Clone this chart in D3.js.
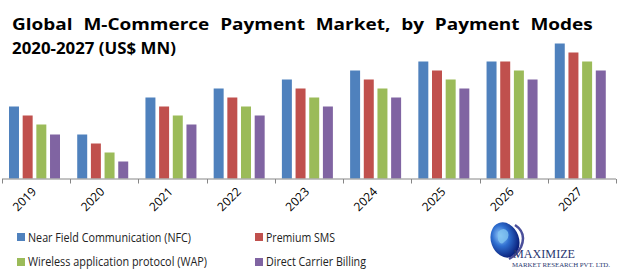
<!DOCTYPE html>
<html><head><meta charset="utf-8">
<script src="https://cdn.jsdelivr.net/npm/d3@7"></script>
<style>body{margin:0;background:#fff}svg{display:block}</style>
</head><body>
<svg id="c" width="624" height="271"></svg>
<script>
const years = ["2019","2020","2021","2022","2023","2024","2025","2026","2027"];
const seriesNames = ["Near Field Communication (NFC)","Premium SMS","Wireless application protocol (WAP)","Direct Carrier Billing"];
const colors = ["#4F81BD","#C0504D","#9BBB59","#8064A2"];
const nfc     = [72, 44, 81, 90, 99, 108, 117, 117, 135];
const sms     = [63, 35, 72, 81, 90,  99, 108, 117, 126];
const wap     = [54, 26, 63, 72, 81,  90,  99, 108, 117];
const carrier = [44, 17, 54, 63, 72,  81,  90,  99, 108];
const seriesValues = [nfc, sms, wap, carrier];
const titleLines = ["Global M-Commerce Payment Market, by Payment Modes", "2020-2027 (US$ MN)"];

const svg = d3.select("#c");
const baseY = 178.5;
const x0 = d3.scaleBand().domain(years).range([2, 616]).padding(0);
const xi = d3.scaleBand().domain(d3.range(4)).range([7, 58]).paddingInner(0.27);
const y = d3.scaleLinear().domain([0, 135]).range([baseY, baseY - 135]);

// Title
const tf = "'Open Sans', 'DejaVu Sans', sans-serif";
const tg1 = svg.append("g");
const t1 = tg1.append("text").attr("x", 0).attr("y", 0).attr("font-family", tf)
  .attr("font-weight", "bold").attr("font-size", 16).attr("fill", "#000")
  .attr("word-spacing", 5).text(titleLines[0]);
const nat = t1.node().getBBox().width;
tg1.attr("transform", `translate(12,30) scale(${581 / nat},1)`);
const tg2 = svg.append("g");
const t2 = tg2.append("text").attr("x", 0).attr("y", 0).attr("font-family", tf)
  .attr("font-weight", "bold").attr("font-size", 16).attr("fill", "#000").text(titleLines[1]);
const nat2 = t2.node().getBBox().width;
tg2.attr("transform", `translate(12,54) scale(${164 / nat2},1)`);

// Bars
const g = svg.append("g");
years.forEach((yr, i) => {
  seriesValues.forEach((vals, s) => {
    g.append("rect")
      .attr("x", x0(yr) + xi(s))
      .attr("width", xi.bandwidth())
      .attr("y", y(vals[i]))
      .attr("height", y(0) - y(vals[i]))
      .attr("fill", colors[s]);
  });
});

// Axis
const ax = svg.append("g").attr("transform", `translate(0,${baseY})`);
const axis = d3.axisBottom(x0).tickSize(0).tickPadding(0).tickFormat("");
ax.call(axis);
ax.select(".domain").remove();
ax.append("line").attr("x1", 2).attr("x2", 616).attr("y1", 0.5).attr("y2", 0.5).attr("stroke", "#868686");
const bounds = years.map(d => x0(d)).concat([x0.range()[1]]);
bounds.forEach(b => ax.append("line").attr("x1", Math.round(b)+0.5).attr("x2", Math.round(b)+0.5)
  .attr("y1", 0.5).attr("y2", 5).attr("stroke", "#868686"));
years.forEach(yr => {
  const cx = x0(yr) + x0.bandwidth() / 2 + 1;
  ax.append("text").attr("transform", `translate(${cx},14) rotate(-45)`)
    .attr("text-anchor", "end").attr("font-family", tf).attr("font-size", 12)
    .attr("fill", "#000").text(yr);
});

// Legend
const lf = "'Open Sans', 'DejaVu Sans', sans-serif";
const leg = [
  {x: 17, y: 233, tx: 28, ty: 242, w: 163},
  {x: 255, y: 233, tx: 266, ty: 242, w: 69},
  {x: 17, y: 258, tx: 28, ty: 266, w: 179},
  {x: 255, y: 258, tx: 266, ty: 266, w: 100}
];
seriesNames.forEach((n, i) => {
  const L = leg[i];
  svg.append("rect").attr("x", L.x).attr("y", L.y).attr("width", 8).attr("height", 8).attr("fill", colors[i]);
  svg.append("text").attr("x", L.tx).attr("y", L.ty).attr("font-family", lf).attr("font-size", 13.5)
    .attr("fill", "#222").attr("textLength", L.w).attr("lengthAdjust", "spacingAndGlyphs").text(n);
});

// Logo
const defs = svg.append("defs");
const rg = defs.append("radialGradient").attr("id", "gl").attr("cx", "40%").attr("cy", "35%").attr("r", "65%");
rg.append("stop").attr("offset", "0%").attr("stop-color", "#9fd4ff");
rg.append("stop").attr("offset", "45%").attr("stop-color", "#2f6fd0");
rg.append("stop").attr("offset", "100%").attr("stop-color", "#0a1f7a");
const logo = svg.append("g");
logo.append("ellipse").attr("cx", 505).attr("cy", 240).attr("rx", 14).attr("ry", 18)
  .attr("transform", "rotate(-20,505,240)").attr("fill", "url(#gl)");
logo.append("path").attr("d", "M498,232 q6,-6 10,0 q2,6 -4,10 q-3,4 -6,-2 z").attr("fill", "#7fc3f0").attr("opacity", 0.8);
logo.append("path").attr("d", "M515,225 q12,8 6,22 q-4,8 -12,12").attr("fill", "none").attr("stroke", "#4a4f9a").attr("stroke-width", 2.5);
logo.append("text").attr("x", 513).attr("y", 258).attr("font-family", "'Liberation Serif','DejaVu Serif',serif")
  .attr("font-size", 13.5).attr("fill", "#2a3770").attr("textLength", 62).attr("lengthAdjust", "spacingAndGlyphs").text("MAXIMIZE");
logo.append("text").attr("x", 512).attr("y", 267).attr("font-family", "'Liberation Serif','DejaVu Serif',serif")
  .attr("font-size", 7).attr("fill", "#2a3770").attr("textLength", 98).attr("lengthAdjust", "spacingAndGlyphs").text("MARKET RESEARCH PVT. LTD.");
</script>
</body></html>
